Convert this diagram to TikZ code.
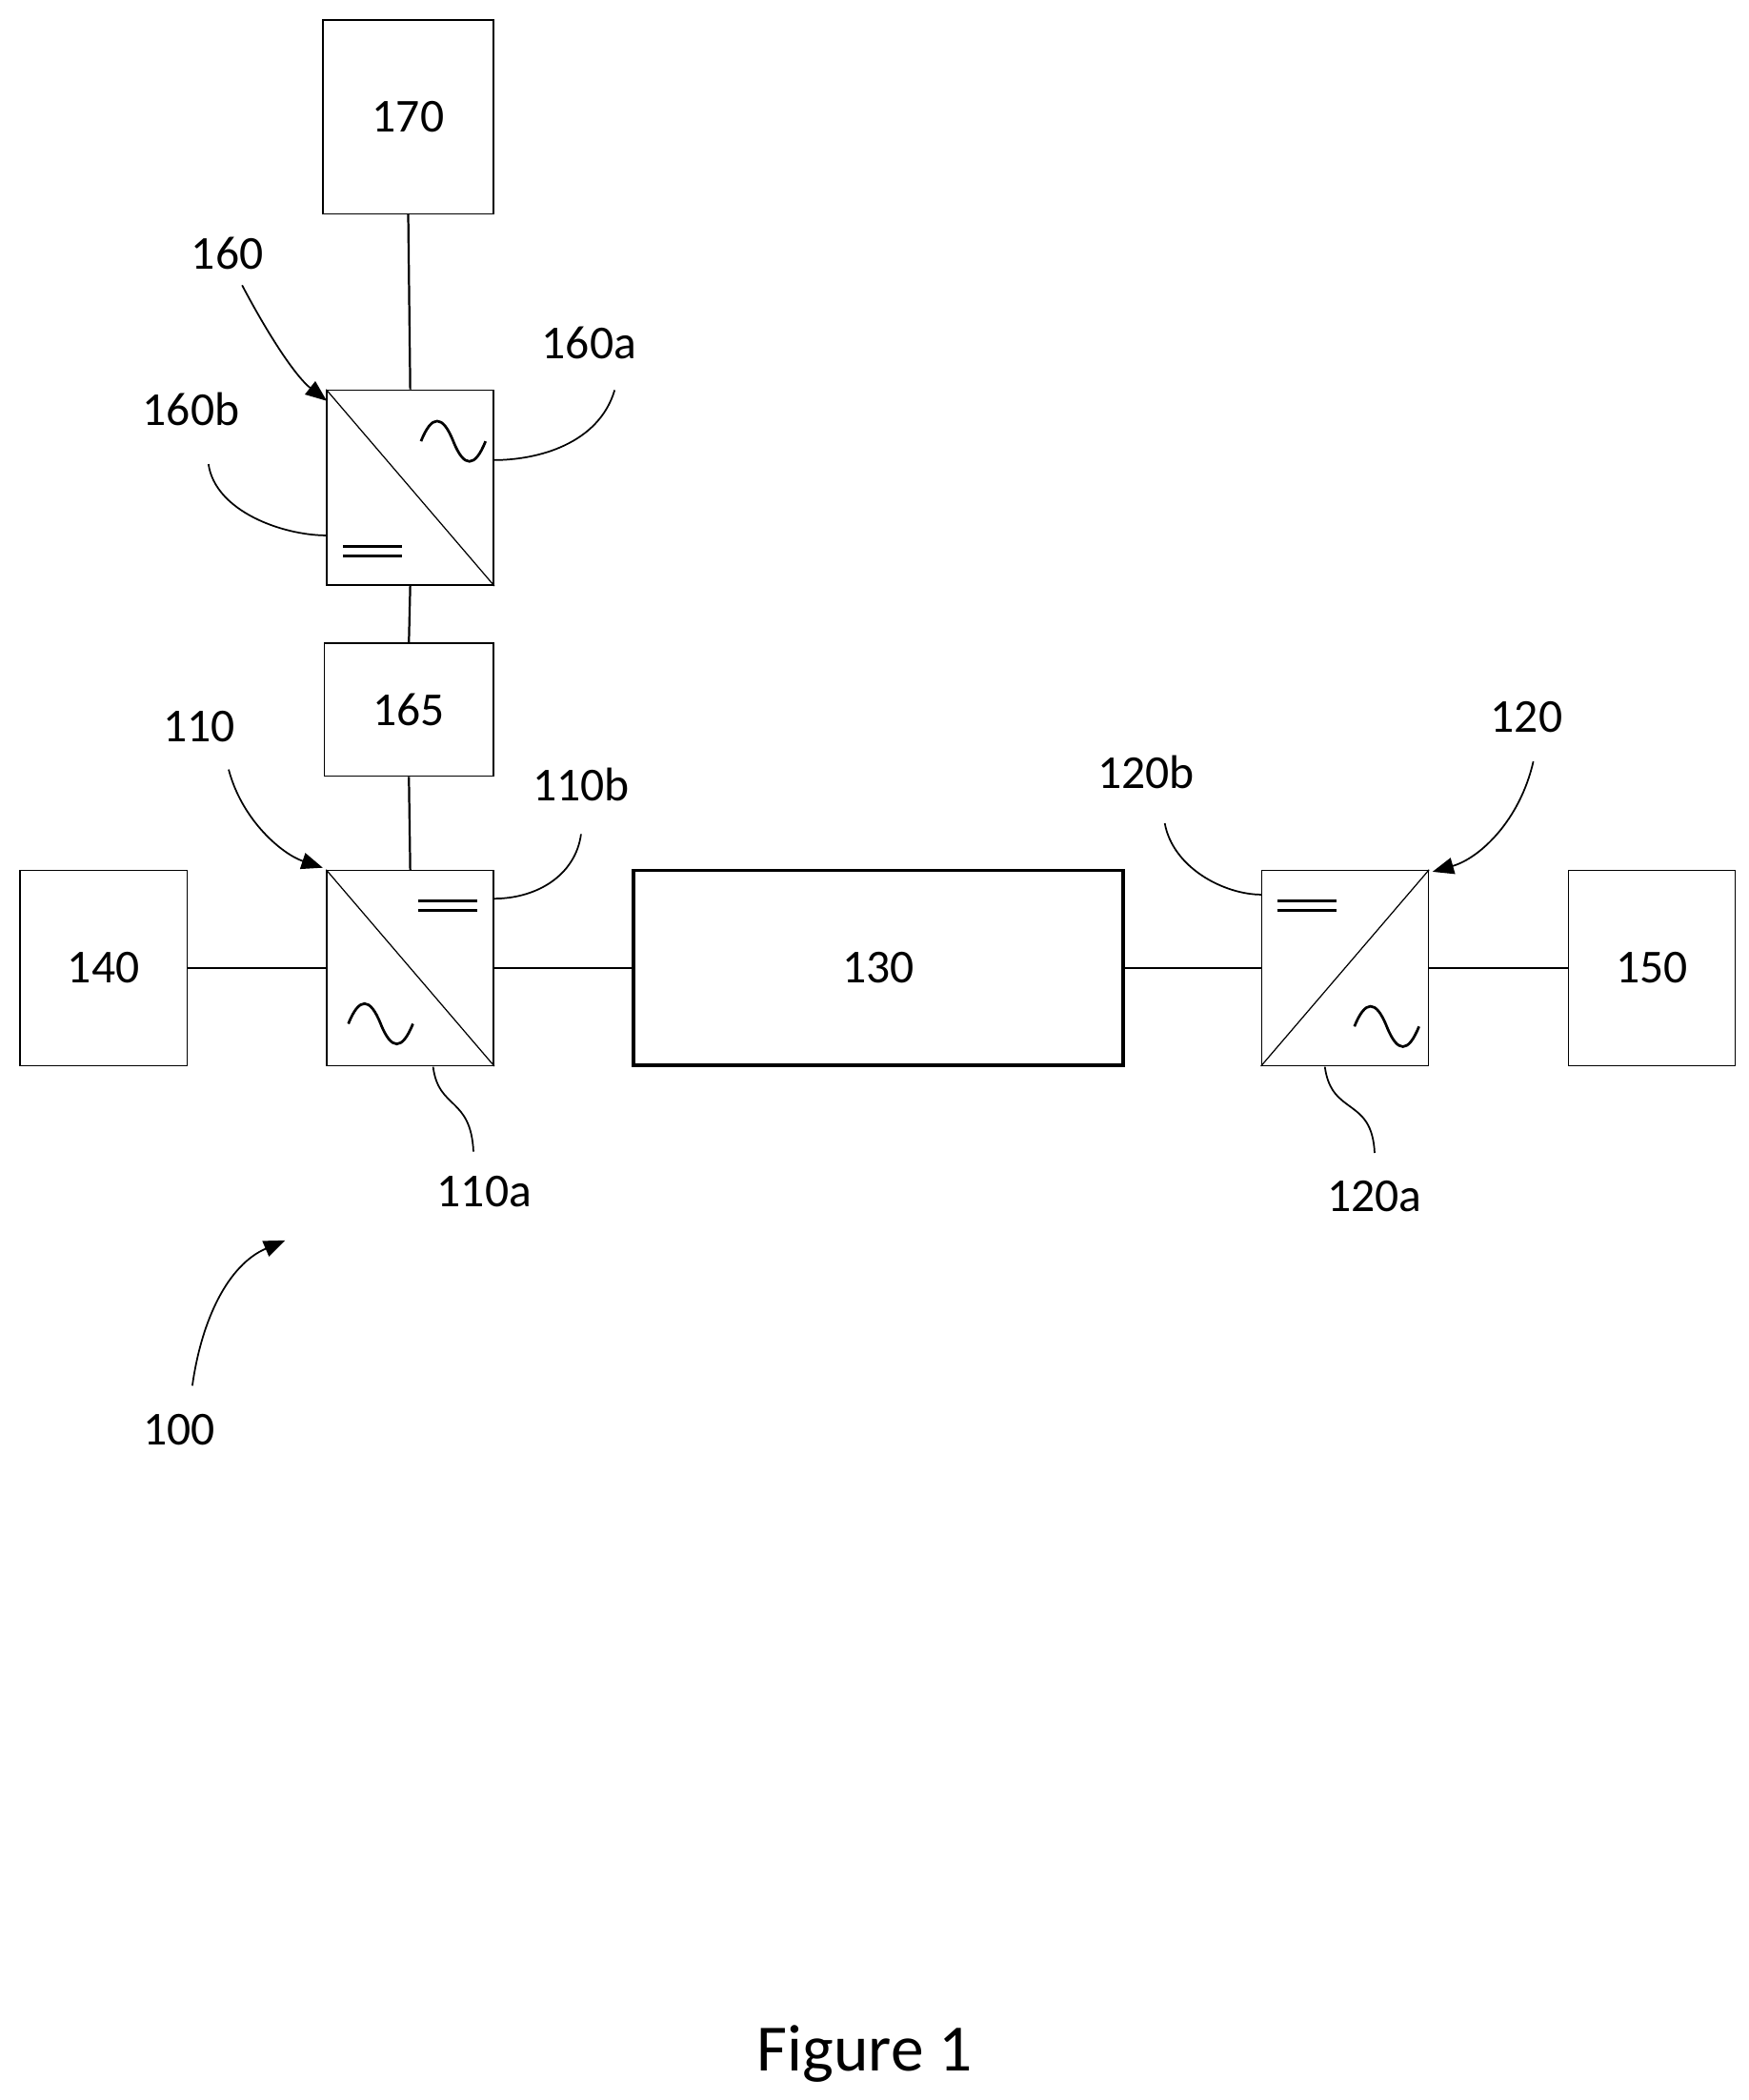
\documentclass[tikz,border=0pt]{standalone}
\usepackage{fontspec}
\setmainfont{Carlito}
\usetikzlibrary{arrows.meta}
\begin{document}
\begin{tikzpicture}[x=0.02cm,y=-0.02cm,
  box/.style={draw,line width=0.6pt,inner sep=0pt,font=\fontsize{20}{24}\selectfont},
  lbl/.style={font=\fontsize{20}{24}\selectfont,inner sep=0pt},
  ln/.style={line width=0.9pt},
  lead/.style={line width=0.7pt},
  arr/.style={lead,-{Triangle[length=9pt,width=7pt]}}]
\useasboundingbox (0,0) rectangle (1300,1561);
\tikzset{ac/.pic={\draw[line width=1.1pt] (-24,0) .. controls (-16,-20) and (-8,-20) .. (0,0) .. controls (8,20) and (16,20) .. (24,0);},
 dc/.pic={\draw[line width=1.2pt] (-22,-3.5)--(22,-3.5) (-22,3.5)--(22,3.5);}}
% boxes
\node[box,minimum width=127*0.02cm,minimum height=144*0.02cm] (n170) at (303.5,87) {170};
\node[box,minimum width=124*0.02cm,minimum height=145*0.02cm] (n160) at (305,362.5) {};
\node[box,minimum width=126*0.02cm,minimum height=99*0.02cm] (n165) at (304,527.5) {165};
\node[box,minimum width=124*0.02cm,minimum height=145*0.02cm] (n110) at (305,719.5) {};
\node[box,minimum width=124*0.02cm,minimum height=145*0.02cm] (n140) at (77,719.5) {140};
\node[box,line width=1.5pt,minimum width=364*0.02cm,minimum height=145*0.02cm] (n130) at (653,719.5) {130};
\node[box,minimum width=124*0.02cm,minimum height=145*0.02cm] (n120) at (1000,719.5) {};
\node[box,minimum width=124*0.02cm,minimum height=145*0.02cm] (n150) at (1228,719.5) {150};
% diagonals and symbols
\draw[line width=0.5pt] (n160.north west)--(n160.south east);
\draw[line width=0.5pt] (n110.north west)--(n110.south east);
\draw[line width=0.5pt] (n120.north east)--(n120.south west);
\pic at (337,328) {ac}; \pic at (277,410) {dc};
\pic at (333,673) {dc}; \pic at (283,761) {ac};
\pic at (972,673) {dc}; \pic at (1031,763) {ac};
% connectors
\draw[ln] (n170.south) -- (n160.north);
\draw[ln] (n160.south) -- (n165.north);
\draw[ln] (n165.south) -- (n110.north);
\draw[ln] (n140.east) -- (n110.west);
\draw[ln] (n110.east) -- (n130.west);
\draw[ln] (n130.east) -- (n120.west);
\draw[ln] (n120.east) -- (n150.west);
% labels
\node[lbl] (l160) at (169,188) {160};
\node[lbl] (l160a) at (438,255) {160a};
\node[lbl] (l160b) at (142,304) {160b};
\node[lbl] (l110) at (148,540) {110};
\node[lbl] (l110b) at (432,583) {110b};
\node[lbl] (l120b) at (852,574) {120b};
\node[lbl] (l120) at (1135,533) {120};
\node[lbl] (l110a) at (360,886) {110a};
\node[lbl] (l120a) at (1022,889) {120a};
\node[lbl] (l100) at (133,1063) {100};
\node[lbl,font=\fontsize{28}{32}\selectfont] (fig) at (643,1527) {Figure 1};
% leaders
\coordinate (c160) at (243,298);
\draw[arr] (180,212) .. controls (200,250) and (220,280) .. (c160);
\draw[lead] (457,290) .. controls (445,330) and (400,342) .. (367,342);
\draw[lead] (155,345) .. controls (160,380) and (210,398) .. (243,398);
\coordinate (c110) at (240,645);
\draw[arr] (170,572) .. controls (180,610) and (210,635) .. (c110);
\draw[lead] (432,620) .. controls (428,650) and (400,668) .. (367,668);
\draw[lead] (866,612) .. controls (872,645) and (910,665) .. (938,665);
\coordinate (c120) at (1065,648);
\draw[arr] (1140,566) .. controls (1130,610) and (1100,638) .. (c120);
\draw[lead] (322,793) .. controls (326,825) and (350,815) .. (352,856);
\draw[lead] (985,793) .. controls (990,830) and (1020,815) .. (1022,857);
\coordinate (c100) at (212,922);
\draw[arr] (143,1030) .. controls (150,980) and (170,940) .. (c100);
\end{tikzpicture}
\end{document}
